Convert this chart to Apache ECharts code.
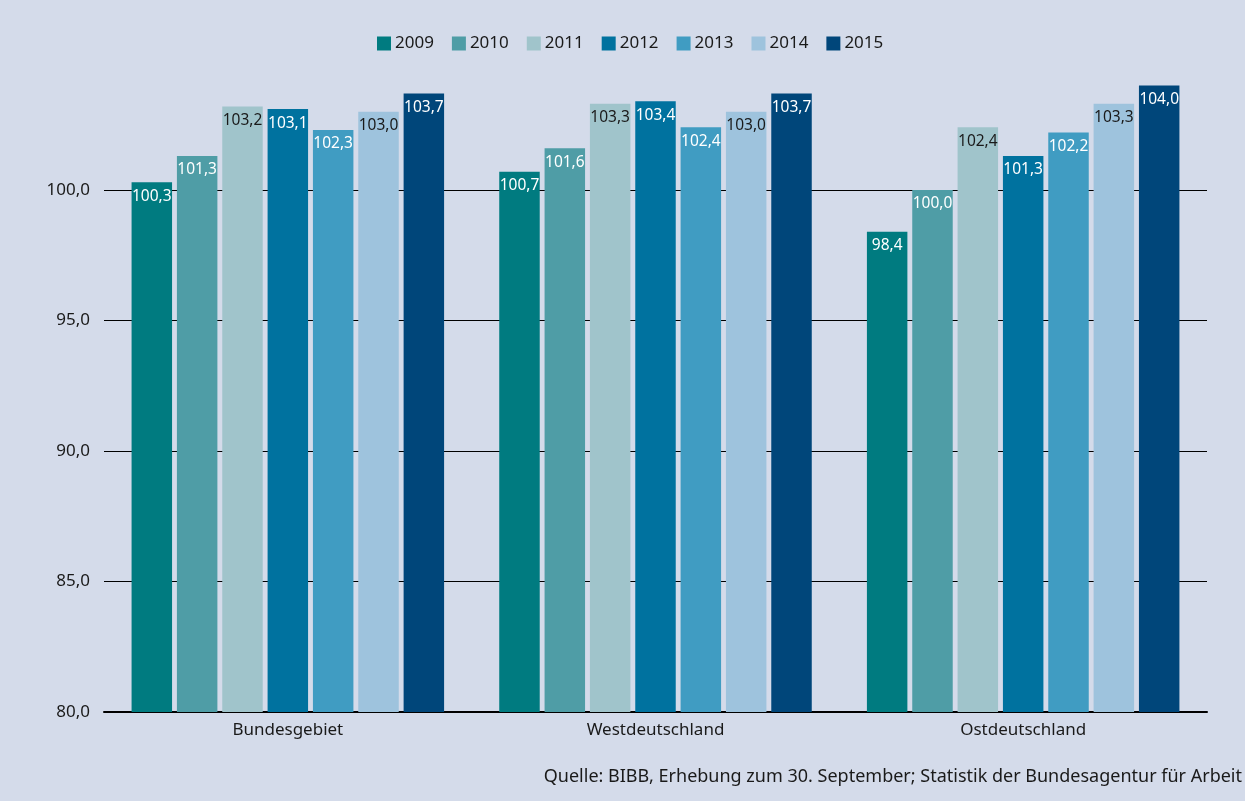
<!DOCTYPE html>
<html>
<head>
<meta charset="utf-8">
<script src="https://cdn.jsdelivr.net/npm/echarts@6/dist/echarts.min.js"></script>
<style>
  html, body { margin: 0; padding: 0; background: #d4dbea; }
  #chart { width: 1245px; height: 801px; }
</style>
</head>
<body>
<div id="chart"></div>
<script>
// Regions along the x axis
const regions = ['Bundesgebiet', 'Westdeutschland', 'Ostdeutschland'];
// Years shown as series
const years = ['2009', '2010', '2011', '2012', '2013', '2014', '2015'];
// Values per year, one entry per region
const v2009 = [100.3, 100.7, 98.4];
const v2010 = [101.3, 101.6, 100.0];
const v2011 = [103.2, 103.3, 102.4];
const v2012 = [103.1, 103.4, 101.3];
const v2013 = [102.3, 102.4, 102.2];
const v2014 = [103.0, 103.0, 103.3];
const v2015 = [103.7, 103.7, 104.0];
const yearValues = [v2009, v2010, v2011, v2012, v2013, v2014, v2015];
// Y axis range
const yMin = 80, yMax = 105, yStep = 5;
const sourceNote = 'Quelle: BIBB, Erhebung zum 30. September; Statistik der Bundesagentur für Arbeit';

const colors = ['#007b80', '#4f9da6', '#a0c4cb', '#00729f', '#409cc2', '#9ec3dd', '#00467a'];
const labelColors = ['#ffffff', '#ffffff', '#1a1a1a', '#ffffff', '#ffffff', '#1a1a1a', '#ffffff'];
const FONT = '"Noto Sans", sans-serif';
const fmt = v => v.toFixed(1).replace('.', ',');

const chart = echarts.init(document.getElementById('chart'), null, { renderer: 'canvas' });
chart.setOption({
  backgroundColor: '#d4dbea',
  animation: false,
  textStyle: { fontFamily: FONT },
  legend: {
    top: 30,
    left: 372,
    itemWidth: 14,
    itemHeight: 14,
    itemGap: 18,
    icon: 'rect',
    textStyle: { fontFamily: FONT, fontSize: 17, color: '#1a1a1a', padding: [0, 0, 0, -1] },
    data: years
  },
  grid: { left: 104, right: 38, top: 59.5, bottom: 89, containLabel: false },
  xAxis: {
    type: 'category',
    data: regions,
    axisLine: { lineStyle: { color: '#000', width: 2 } },
    axisTick: { show: false },
    axisLabel: { color: '#1a1a1a', fontFamily: FONT, fontSize: 17, margin: 10 },
    splitLine: { show: false }
  },
  yAxis: {
    type: 'value',
    min: yMin,
    max: yMax,
    interval: yStep,
    axisLine: { show: false },
    axisTick: { show: false },
    axisLabel: {
      color: '#1a1a1a', fontFamily: FONT, fontSize: 17, margin: 14,
      showMaxLabel: false,
      formatter: v => fmt(v)
    },
    splitLine: { show: true, showMaxLine: false, showMinLine: false, lineStyle: { color: '#000', width: 1 } }
  },
  series: years.map((y, i) => ({
    name: y,
    type: 'bar',
    data: yearValues[i],
    barGap: '12%',
    barCategoryGap: '15%',
    itemStyle: { color: colors[i] },
    label: {
      show: true,
      position: 'insideTop',
      distance: 6,
      color: labelColors[i],
      fontFamily: FONT,
      fontSize: 15.5,
      formatter: p => fmt(p.value)
    }
  })),
  graphic: [{
    type: 'text',
    right: 3,
    top: 768,
    style: { text: sourceNote, fontFamily: FONT, fontSize: 18, fill: '#1a1a1a' }
  }]
});
</script>
</body>
</html>
